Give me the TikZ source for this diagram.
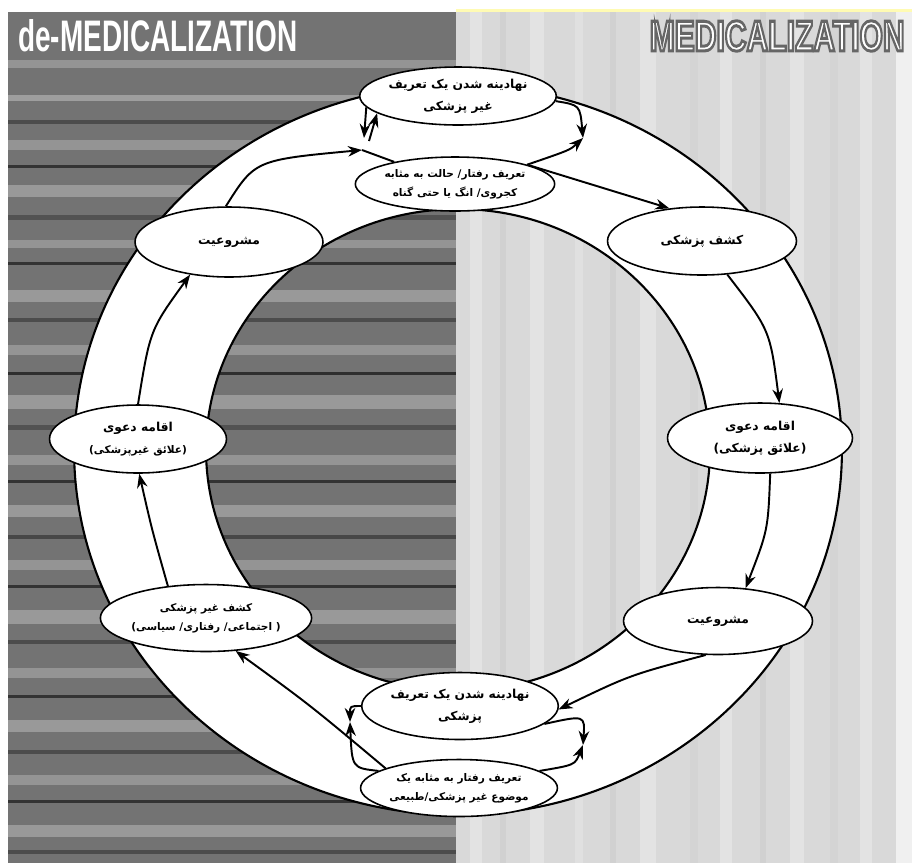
\documentclass[tikz,border=0pt]{standalone}
\usepackage{fontspec}
\setmainfont{Liberation Sans}
\newfontfamily\fa[Script=Arabic]{DejaVu Sans}
\TeXXeTstate=1
\usetikzlibrary{shapes.geometric,arrows.meta}
\newcommand{\fal}[1]{\beginR#1\endR}
\newcommand{\hollow}[1]{\special{pdf:code 2 Tr 0.7 w 0.4 G}#1\special{pdf:code 0 Tr}}
\begin{document}
\begin{tikzpicture}[x=0.02cm,y=-0.02cm,
  stage/.style={ellipse,draw,line width=0.9pt,fill=white,inner sep=0pt,align=center,
    font=\fa\bfseries\fontsize{7}{12.5}\selectfont},
  small/.style={font=\fa\bfseries\fontsize{6}{11}\selectfont},
  flow/.style={line width=1.1pt,-{Stealth[length=8pt,width=6pt]}},
  ringline/.style={line width=1.2pt}]
\useasboundingbox (0,0) rectangle (912,863);
\fill[white] (0,0) rectangle (912,863);
%panels
\fill[black!15] (456,12) rectangle (912,863);
\fill[yellow!30] (456,9) rectangle (912,12);
\foreach \x/\w/\c in {470/12/black!11,500/6/black!18,530/14/black!11,575/8/black!12,
  610/6/black!18,640/16/black!11,690/8/black!17,720/12/black!11,760/6/black!18,
  790/14/black!11,830/8/black!17,860/12/black!11,896/16/black!6}
  \fill[\c] (\x,12) rectangle ++(\w,851);
\fill[black!55] (8,12) rectangle (456,863);
\foreach \y/\h/\c in {60/8/black!42,95/6/black!38,120/4/black!70,140/10/black!42,
  165/3/black!80,185/12/black!40,215/5/black!68,240/8/black!42,262/3/black!80,
  290/12/black!40,318/4/black!70,345/10/black!42,372/3/black!82,395/14/black!40,
  425/5/black!68,455/10/black!42,480/3/black!80,505/12/black!40,535/4/black!72,
  560/10/black!42,585/3/black!80,610/14/black!40,640/4/black!70,668/10/black!42,
  695/3/black!80,720/12/black!40,750/4/black!70,775/10/black!42,800/3/black!80,
  825/12/black!40,850/4/black!70}
  \fill[\c] (8,\y) rectangle ++(448,\h);
%titles
\node[text=white,anchor=west,inner sep=0pt] (lefttitle) at (18,36)
  {\resizebox{5.58cm}{0.64cm}{\bfseries de-MEDICALIZATION}};
\node[text=white,anchor=east,inner sep=0pt] (righttitle) at (905,36)
  {\resizebox{5.1cm}{0.6cm}{\bfseries\hollow{MEDICALIZATION}}};
%ring
\coordinate (ctr) at (458,450);
\fill[white,even odd rule] (ctr) ellipse [x radius=7.68cm,y radius=7.3cm]
  (ctr) ellipse [x radius=5.04cm,y radius=4.82cm];
\draw[ringline] (ctr) ellipse [x radius=7.68cm,y radius=7.3cm];
\draw[ringline] (ctr) ellipse [x radius=5.04cm,y radius=4.82cm];
%stages
\node[stage,minimum width=3.72cm,minimum height=1.16cm] (n1) at (458,96)
  {\fal{نهادینه شدن یک تعریف}\\\fal{غیر پزشکی}};
\node[stage,small,minimum width=3.68cm,minimum height=1.08cm] (n2) at (455,184)
  {\fal{تعریف رفتار/ حالت به مثابه}\\\fal{کجروی/ انگ یا حتی گناه}};
\node[stage,minimum width=3.78cm,minimum height=1.36cm] (n3) at (702,241)
  {\fal{کشف پزشکی}};
\node[stage,minimum width=3.7cm,minimum height=1.4cm] (n4) at (760,438)
  {\fal{اقامه دعوی}\\\fal{(علائق پزشکی)}};
\node[stage,minimum width=3.78cm,minimum height=1.34cm] (n5) at (718,621)
  {\fal{مشروعیت}};
\node[stage,minimum width=3.7cm,minimum height=1.34cm] (n6) at (460,706)
  {\fal{نهادینه شدن یک تعریف}\\\fal{پزشکی}};
\node[stage,small,minimum width=3.76cm,minimum height=1.14cm] (n7) at (459,788)
  {\fal{تعریف رفتار به مثابه یک}\\\fal{موضوع غیر پزشکی/طبیعی}};
\node[stage,small,minimum width=3.84cm,minimum height=1.34cm] (n8) at (206,618)
  {\fal{کشف غیر پزشکی}\\\fal{( اجتماعی/ رفتاری/ سیاسی)}};
\node[stage,minimum width=3.54cm,minimum height=1.36cm] (n9) at (138,439)
  {\fal{اقامه دعوی}\\{\fontsize{6}{11}\selectfont\fal{(علائق غیرپزشکی)}}};
\node[stage,minimum width=3.76cm,minimum height=1.4cm] (n10) at (229,242)
  {\fal{مشروعیت}};
%meeting points
\coordinate (tr) at (583,138);
\coordinate (br) at (583,745);
\coordinate (bl) at (350,722);
\coordinate (tl) at (362,150);
\coordinate (tlu) at (369,141);
\coordinate (tld) at (364,138);
%arrows
\draw[flow] (n1.-3) .. controls (580,105) .. (tr);
\draw[flow] (n2.15) .. controls (570,150) .. (tr);
\draw[flow] (n2.15) -- (n3.135);
\draw[flow] (n3.-53) .. controls (770,330) .. (n4.61);
\draw[flow] (n4.-74) .. controls (768,530) .. (n5.50);
\draw[flow] (n5.-110) .. controls (630,675) .. (n6.-2);
\draw[flow] (n6.-12) .. controls (585,715) .. (br);
\draw[flow] (n7.12) .. controls (575,765) .. (br);
\draw[flow] (n6.180) .. controls (350,706) .. (bl);
\draw[flow] (n7.168) .. controls (352,768) .. (bl);
\draw[flow] (n7.165) .. controls (310,705) .. (n8.-48);
\draw[flow] (n8.140) .. controls (152,530) .. (n9.-88);
\draw[flow] (n9.90) .. controls (150,330) .. (n10.-140);
\draw[flow] (n10.95) .. controls (255,160) .. (tl);
\draw[line width=1.1pt] (n2.160) -- (tl);
\draw[flow] (tlu) -- (n1.-168);
\draw[flow] (n1.-173) -- (tld);
\end{tikzpicture}
\end{document}
